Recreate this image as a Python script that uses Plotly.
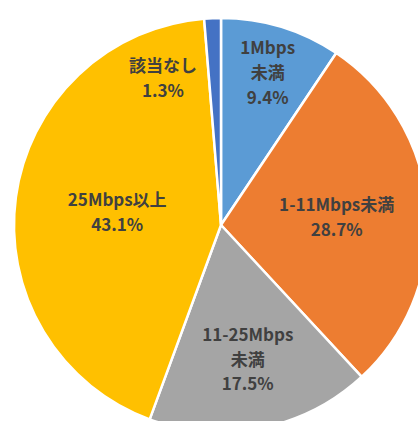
import plotly.graph_objects as go

categories = ["1Mbps未満", "1-11Mbps未満", "11-25Mbps未満", "25Mbps以上", "該当なし"]
display_labels = ["1Mbps<br>未満", "1-11Mbps未満", "11-25Mbps<br>未満", "25Mbps以上", "該当なし"]
values = [9.4, 28.7, 17.5, 43.1, 1.3]
colors = ["#5B9BD5", "#ED7D31", "#A5A5A5", "#FFC000", "#4472C4"]

FONT = "Noto Sans CJK JP"
TXT = "#404040"
VIEW_W, VIEW_H = 418, 421      # visible window (reference is a cropped chart)
W, H = 440, 440                # full figure, cropped to the window
SPAN = "<span style='font-size:17px'><b>{}</b></span>"


def fmt(s):
    return "<br>".join(SPAN.format(p) for p in s.split("<br>"))


fig = go.Figure(go.Pie(
    labels=categories,
    values=values,
    text=[fmt(t) for t in display_labels],
    texttemplate="%{text}<br>" + SPAN.format("%{value:.1f}%"),
    textposition=["inside", "inside", "inside", "inside", "none"],
    insidetextorientation="horizontal",
    textfont=dict(family=FONT, size=19, color=TXT),
    marker=dict(colors=colors, line=dict(color="white", width=2.5)),
    sort=False,
    direction="clockwise",
    rotation=0,
    hoverinfo="label+percent",
    showlegend=False,
    domain=dict(x=[14/W, 428/W], y=[8/H, 422/H]),
))

fig.add_annotation(
    x=163/W, y=1 - 77/H, xref="paper", yref="paper",
    xanchor="center", yanchor="middle",
    text=fmt(f"{categories[4]}<br>{values[4]:.1f}%"),
    showarrow=False, font=dict(family=FONT, size=19, color=TXT),
    align="center",
)

fig.update_layout(
    width=W, height=H,
    margin=dict(l=0, r=0, t=0, b=0),
    paper_bgcolor="white",
)

crop_js = (
    "document.documentElement.style.margin='0';"
    "document.body.style.margin='0';"
    "document.documentElement.style.overflow='hidden';"
    "document.body.style.overflow='hidden';"
    "var gd=document.getElementById('{plot_id}');"
    f"gd.style.width='{VIEW_W}px';gd.style.height='{VIEW_H}px';"
    "gd.style.overflow='hidden';"
)

fig.write_html("out.html", post_script=crop_js, config={"displayModeBar": False})
